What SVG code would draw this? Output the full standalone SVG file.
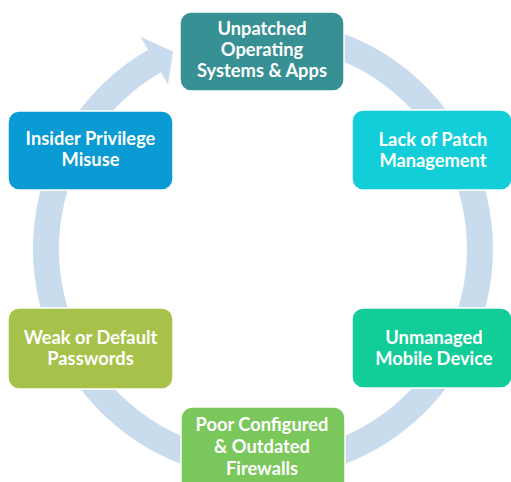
<svg xmlns="http://www.w3.org/2000/svg" width="511" height="482" viewBox="0 0 511 482">
<style>
.box{stroke:#ffffff;stroke-width:1.5}
.t{font-family:Lato,"Liberation Sans",sans-serif;font-weight:bold;font-size:18.3px;fill:#ffffff;text-anchor:middle}
</style>
<rect width="511" height="482" fill="#ffffff"/>
<g id="connectors">
<path d="M302.9,22.5 A230,230 0 1 1 148,49.8 L140.5,36.8 L173,51.5 L168,84.5 L161,72.3 A204,204 0 1 0 298.4,48.1 Z" fill="#c9dcee"/>
</g>
<g id="n1">
<rect class="box" x="180" y="12" width="164" height="79" rx="11" fill="#379094"/>
<text class="t" x="262" y="35">Unpatched</text>
<text class="t" x="262" y="56">Operating</text>
<text class="t" x="262" y="77">Systems &amp; Apps</text>
</g>
<g id="n2">
<rect class="box" x="352" y="110" width="160" height="80" rx="11" fill="#11ced8"/>
<text class="t" x="433" y="146">Lack of Patch</text>
<text class="t" x="433" y="167">Management</text>
</g>
<g id="n3">
<rect class="box" x="352" y="308" width="160" height="80" rx="11" fill="#12cd98"/>
<text class="t" x="434" y="344">Unmanaged</text>
<text class="t" x="434" y="365">Mobile Device</text>
</g>
<g id="n4">
<rect class="box" x="181" y="407" width="164" height="86" rx="11" fill="#7ac85c"/>
<text class="t" x="262" y="431">Poor Configured</text>
<text class="t" x="262" y="453">&amp; Outdated</text>
<text class="t" x="262" y="475">Firewalls</text>
</g>
<g id="n5">
<rect class="box" x="8" y="308" width="165" height="81" rx="11" fill="#a7c24b"/>
<text class="t" x="90.5" y="344">Weak or Default</text>
<text class="t" x="90.5" y="365">Passwords</text>
</g>
<g id="n6">
<rect class="box" x="8" y="111" width="165" height="79" rx="11" fill="#0a9ad4"/>
<text class="t" x="90.5" y="145">Insider Privilege</text>
<text class="t" x="90.5" y="166">Misuse</text>
</g>
</svg>
